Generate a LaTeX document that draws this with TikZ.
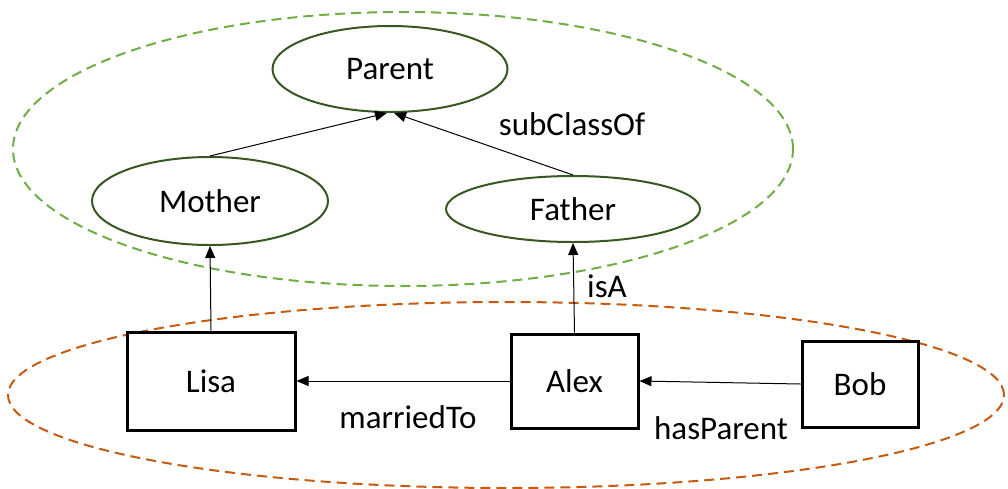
\documentclass[tikz,border=0pt]{standalone}
\usepackage{fontspec}
\setmainfont{Carlito}
\usetikzlibrary{shapes.geometric,arrows.meta}
\definecolor{grpgreen}{HTML}{70AD47}
\definecolor{grporange}{HTML}{C55A11}
\definecolor{clsgreen}{HTML}{385723}
\tikzset{
  every node/.style={font=\fontsize{33}{40}\selectfont, inner sep=0pt},
  cls/.style={ellipse, draw=clsgreen, line width=2pt, fill=white},
  inst/.style={rectangle, draw=black, line width=3pt, fill=white},
  grp/.style={ellipse, dash pattern=on 10pt off 6pt, line width=2pt},
  rel/.style={draw=black, line width=1pt, -{Triangle[length=12pt,width=10pt]}},
  lbl/.style={text=black}
}
\begin{document}
\begin{tikzpicture}[x=1pt,y=-1pt]
\useasboundingbox (0,0) rectangle (1008,488);
% group ellipses
\node[grp, draw=grpgreen, minimum width=780pt, minimum height=274pt] (tbox) at (403,149) {};
\node[grp, draw=grporange, minimum width=996pt, minimum height=186pt] (abox) at (506,395) {};
% classes
\node[cls, minimum width=235pt, minimum height=86pt] (parent) at (390,69) {Parent};
\node[cls, minimum width=236pt, minimum height=88pt] (mother) at (210,201) {Mother};
\node[cls, minimum width=254pt, minimum height=66pt] (father) at (573,209) {Father};
% instances
\node[inst, minimum width=168pt, minimum height=98pt] (lisa) at (211,381) {Lisa};
\node[inst, minimum width=127pt, minimum height=94pt] (alex) at (574.5,381) {Alex};
\node[inst, minimum width=116pt, minimum height=86pt] (bob) at (860,384) {Bob};
% anchor points on the Parent ellipse
\coordinate (pl) at (387,113);
\coordinate (pr) at (394,113);
% connectors
\draw[rel] (mother.north) -- (pl);
\draw[rel] (father.north) -- (pr);
\draw[rel] (lisa.north) -- (mother.south);
\draw[rel] (alex.north) -- (father.south);
\draw[rel] (alex.west) -- (lisa.east);
\draw[rel] (bob.west) -- (alex.east);
% labels
\node[lbl] (lsub) at (572,124) {subClassOf};
\node[lbl] (lisa2) at (607,286) {isA};
\node[lbl] (lmar) at (408,417) {marriedTo};
\node[lbl] (lhas) at (721,428) {hasParent};
\end{tikzpicture}
\end{document}
